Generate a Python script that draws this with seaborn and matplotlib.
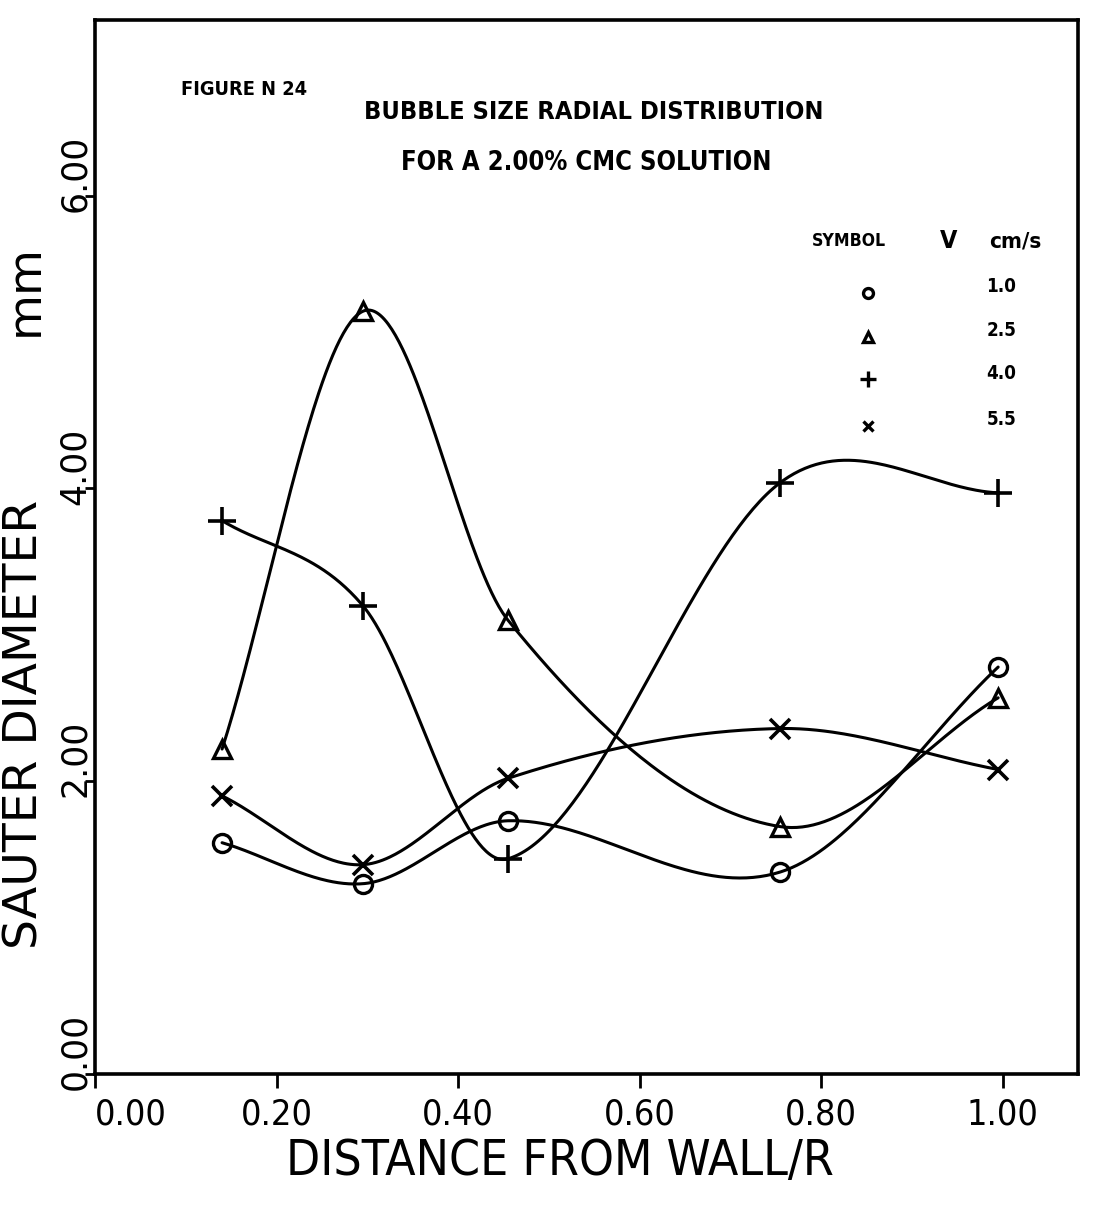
import numpy as np
import pandas as pd
import matplotlib
matplotlib.use("Agg")
import matplotlib.pyplot as plt
import matplotlib.transforms as mtransforms
from matplotlib import font_manager
import seaborn as sns

# ---- data -------------------------------------------------------------
distance = [0.14, 0.295, 0.455, 0.755, 0.995]          # distance from wall / R
velocities = [1.0, 2.5, 4.0, 5.5]                       # gas velocity, cm/s
d32_v10 = [1.58, 1.30, 1.73, 1.38, 2.78]               # Sauter diameter, mm
d32_v25 = [2.22, 5.21, 3.10, 1.69, 2.57]
d32_v40 = [3.78, 3.20, 1.47, 4.04, 3.97]
d32_v55 = [1.90, 1.43, 2.02, 2.36, 2.08]
x_ticks = [0.0, 0.2, 0.4, 0.6, 0.8, 1.0]
y_ticks = [0.0, 2.0, 4.0, 6.0]

series = [d32_v10, d32_v25, d32_v40, d32_v55]
marker_styles = [
    dict(marker="o", ms=13, mfc="none", mew=2.4),
    dict(marker="^", ms=13, mfc="none", mew=2.4),
    dict(marker="+", ms=20, mew=2.6),
    dict(marker="x", ms=14, mew=2.6),
]


def cardinal_curve(xk, yk, per_seg=80):
    """Piecewise cubic Hermite curve with Catmull-Rom tangents (plotter-style smoothing)."""
    xk = np.asarray(xk, float)
    yk = np.asarray(yk, float)
    n = len(xk)
    m = np.empty(n)
    m[0] = (yk[1] - yk[0]) / (xk[1] - xk[0])
    m[-1] = (yk[-1] - yk[-2]) / (xk[-1] - xk[-2])
    m[1:-1] = (yk[2:] - yk[:-2]) / (xk[2:] - xk[:-2])
    xs_all, ys_all = [], []
    for i in range(n - 1):
        h = xk[i + 1] - xk[i]
        t = np.linspace(0, 1, per_seg, endpoint=(i == n - 2))
        h00 = 2 * t ** 3 - 3 * t ** 2 + 1
        h10 = t ** 3 - 2 * t ** 2 + t
        h01 = -2 * t ** 3 + 3 * t ** 2
        h11 = t ** 3 - t ** 2
        xs_all.append(xk[i] + t * h)
        ys_all.append(h00 * yk[i] + h10 * h * m[i] + h01 * yk[i + 1] + h11 * h * m[i + 1])
    return np.concatenate(xs_all), np.concatenate(ys_all)


frames = []
for v, vals in zip(velocities, series):
    xs, ys = cardinal_curve(distance, vals)
    frames.append(pd.DataFrame({"distance": xs, "d32": ys, "V": v}))
curves = pd.concat(frames, ignore_index=True)

# ---- style ------------------------------------------------------------
sns.set_theme(style="white")
plt.rcParams["font.family"] = ["DejaVu Sans"]
for key in ("text.color", "axes.labelcolor", "xtick.color", "ytick.color", "axes.edgecolor"):
    plt.rcParams[key] = "black"

# narrowest installed sans face for the plotter-style lettering
rank = {"ultra-condensed": 0, "extra-condensed": 1, "condensed": 2, "semi-condensed": 3}
preferred = ["Liberation Sans Narrow", "Noto Sans", "DejaVu Sans", "Open Sans", "Roboto", "Lato", "Inter"]
best = None
for f in font_manager.fontManager.ttflist:
    st = str(f.stretch)
    if f.name in preferred and st in rank:
        key = (rank[st], preferred.index(f.name))
        if best is None or key < best[0]:
            best = (key, f.name, st)
COND_FAMILY, COND_STRETCH = (best[1], best[2]) if best else ("DejaVu Sans", "normal")
COND = dict(family=[COND_FAMILY, "DejaVu Sans"], fontstretch=COND_STRETCH)
BOLD = dict(COND, fontweight="bold")

fig = plt.figure(figsize=(10.97, 12.05), dpi=100)
renderer = fig.canvas.get_renderer()


def fit_size(s, target_px, max_pt, **kw):
    """Font size at which `s` is about target_px wide, capped at max_pt."""
    t = fig.text(0, 0, s, fontsize=10, **kw)
    w = t.get_window_extent(renderer).width
    t.remove()
    return min(max_pt, 10 * target_px / w)


ax = fig.add_axes([0.0866, 0.1087, 0.8961, 0.8747])

sns.lineplot(data=curves, x="distance", y="d32", units="V", estimator=None,
             sort=False, color="black", linewidth=2.2, ax=ax, legend=False)
for vals, st in zip(series, marker_styles):
    ax.plot(distance, vals, ls="none", color="black", **st)

ax.set_xlim(0, 1.083)
ax.set_ylim(0, 7.2)

for s in ax.spines.values():
    s.set_visible(True)
    s.set_color("black")
    s.set_linewidth(2.6)

# x axis ticks
xt_size = fit_size("0.20", 72, 34, **COND)
ax.set_xticks(x_ticks)
ax.set_xticklabels([f"{t:.2f}" for t in x_ticks], fontsize=xt_size, **COND)
ax.get_xticklabels()[0].set_ha("left")
ax.tick_params(axis="x", direction="out", length=10, width=2, pad=7, bottom=True)

# y axis ticks with rotated labels
ax.set_yticks(y_ticks)
ax.set_yticklabels([])
ax.tick_params(axis="y", direction="out", length=7, width=2, left=True)
ytrans = mtransforms.blended_transform_factory(ax.transAxes, ax.transData)
for t in y_ticks:
    ax.text(-0.0205, t - 0.11, f"{t:.2f}", rotation=90, ha="center", va="bottom",
            fontsize=25, family="DejaVu Sans", transform=ytrans, clip_on=False)

# axis titles
xl_size = fit_size("DISTANCE FROM WALL/R", 548, 48, **COND)
ax.set_xlabel("DISTANCE FROM WALL/R", fontsize=xl_size, **COND)
ax.xaxis.set_label_coords(0.473, -0.060)
ax.set_ylabel("")
fig.text(0.023, 1 - 724 / 1205, "SAUTER DIAMETER", rotation=90, ha="center", va="center",
         fontsize=34, family="DejaVu Sans")
fig.text(0.023, 1 - 290 / 1205, "mm", rotation=90, ha="center", va="center",
         fontsize=34, family="DejaVu Sans")

# heading inside the frame
ax.text(0.087, 0.934, "FIGURE N 24", ha="left", va="center",
        fontsize=fit_size("FIGURE N 24", 126, 22, **BOLD), transform=ax.transAxes, **BOLD)
ax.text(0.507, 0.913, "BUBBLE SIZE RADIAL DISTRIBUTION", ha="center", va="center",
        fontsize=fit_size("BUBBLE SIZE RADIAL DISTRIBUTION", 456, 24, **BOLD),
        transform=ax.transAxes, **BOLD)
ax.text(0.500, 0.864, "FOR A 2.00% CMC SOLUTION", ha="center", va="center",
        fontsize=fit_size("FOR A 2.00% CMC SOLUTION", 370, 24, **BOLD),
        transform=ax.transAxes, **BOLD)

# symbol table
ax.text(0.767, 0.790, "SYMBOL", ha="center", va="center",
        fontsize=fit_size("SYMBOL", 74, 20, **BOLD), transform=ax.transAxes, **BOLD)
ax.text(0.868, 0.790, "V", ha="center", va="center", fontsize=18,
        transform=ax.transAxes, **BOLD)
ax.text(0.936, 0.790, "cm/s", ha="center", va="center",
        fontsize=fit_size("cm/s", 52, 18, **BOLD), transform=ax.transAxes, **BOLD)
row_y = [0.741, 0.699, 0.659, 0.615]
val_size = fit_size("2.5", 30, 16, **BOLD)
for v, st, ry in zip(velocities, marker_styles, row_y):
    small = dict(st)
    small["ms"] = st["ms"] * 0.55
    small["mew"] = 2.4
    ax.plot([0.786], [ry], ls="none", color="black", transform=ax.transAxes,
            clip_on=False, **small)
    ax.text(0.922, ry + 0.006, f"{v:.1f}", ha="center", va="center", fontsize=val_size,
            transform=ax.transAxes, **BOLD)

fig.savefig("out.png", dpi=100, facecolor="white")
